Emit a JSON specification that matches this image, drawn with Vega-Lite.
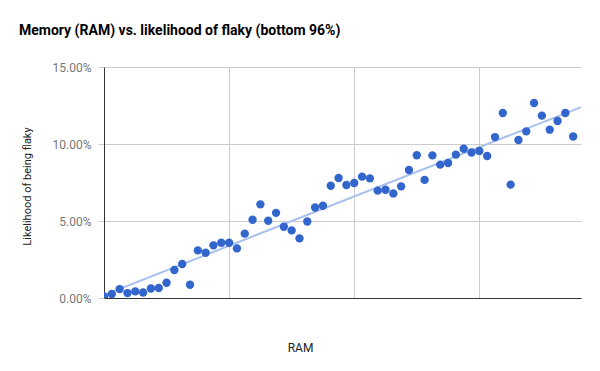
{
  "$schema": "https://vega.github.io/schema/vega-lite/v6.json",
  "width": 477,
  "height": 231,
  "autosize": {"type": "none"},
  "padding": {"left": 104, "top": 67, "right": 19, "bottom": 73},
  "background": "white",
  "config": {
    "font": "Roboto",
    "view": {"stroke": null}
  },
  "title": {
    "text": "Memory (RAM) vs. likelihood of flaky (bottom 96%)",
    "anchor": "start",
    "frame": "group",
    "dx": -85,
    "dy": 22,
    "offset": 34,
    "baseline": "alphabetic",
    "fontSize": 14,
    "fontWeight": "bold",
    "color": "#000000",
    "font": "Roboto"
  },
  "data": {
    "values": [
      {"ram": 0, "flaky": 0.0010}, {"ram": 1, "flaky": 0.0026}, {"ram": 2, "flaky": 0.0058},
      {"ram": 3, "flaky": 0.0032}, {"ram": 4, "flaky": 0.0043}, {"ram": 5, "flaky": 0.0036},
      {"ram": 6, "flaky": 0.0062}, {"ram": 7, "flaky": 0.0065}, {"ram": 8, "flaky": 0.0099},
      {"ram": 9, "flaky": 0.0182}, {"ram": 10, "flaky": 0.0221}, {"ram": 11, "flaky": 0.0086},
      {"ram": 12, "flaky": 0.0309}, {"ram": 13, "flaky": 0.0294}, {"ram": 14, "flaky": 0.0342},
      {"ram": 15, "flaky": 0.0359}, {"ram": 16, "flaky": 0.0359}, {"ram": 17, "flaky": 0.0322},
      {"ram": 18, "flaky": 0.0418}, {"ram": 19, "flaky": 0.0508}, {"ram": 20, "flaky": 0.0608},
      {"ram": 21, "flaky": 0.0502}, {"ram": 22, "flaky": 0.0553}, {"ram": 23, "flaky": 0.0463},
      {"ram": 24, "flaky": 0.0439}, {"ram": 25, "flaky": 0.0387}, {"ram": 26, "flaky": 0.0497},
      {"ram": 27, "flaky": 0.0588}, {"ram": 28, "flaky": 0.0599}, {"ram": 29, "flaky": 0.0729},
      {"ram": 30, "flaky": 0.0779}, {"ram": 31, "flaky": 0.0734}, {"ram": 32, "flaky": 0.0747},
      {"ram": 33, "flaky": 0.0788}, {"ram": 34, "flaky": 0.0777}, {"ram": 35, "flaky": 0.0697},
      {"ram": 36, "flaky": 0.0703}, {"ram": 37, "flaky": 0.0679}, {"ram": 38, "flaky": 0.0725},
      {"ram": 39, "flaky": 0.0831}, {"ram": 40, "flaky": 0.0927}, {"ram": 41, "flaky": 0.0767},
      {"ram": 42, "flaky": 0.0926}, {"ram": 43, "flaky": 0.0866}, {"ram": 44, "flaky": 0.0877},
      {"ram": 45, "flaky": 0.0931}, {"ram": 46, "flaky": 0.0969}, {"ram": 47, "flaky": 0.0945},
      {"ram": 48, "flaky": 0.0955}, {"ram": 49, "flaky": 0.0922}, {"ram": 50, "flaky": 0.1045},
      {"ram": 51, "flaky": 0.1201}, {"ram": 52, "flaky": 0.0736}, {"ram": 53, "flaky": 0.1026},
      {"ram": 54, "flaky": 0.1082}, {"ram": 55, "flaky": 0.1266}, {"ram": 56, "flaky": 0.1184},
      {"ram": 57, "flaky": 0.1093}, {"ram": 58, "flaky": 0.1149}, {"ram": 59, "flaky": 0.1201},
      {"ram": 60, "flaky": 0.1049}
    ]
  },
  "encoding": {
    "x": {
      "field": "ram",
      "type": "quantitative",
      "title": "RAM",
      "scale": {"domain": [0, 61], "nice": false, "zero": false},
      "axis": {
        "values": [16, 32, 48],
        "labels": false,
        "ticks": false,
        "grid": true,
        "gridColor": "#cccccc",
        "domainColor": "#333333",
        "titleFont": "Roboto",
        "titleFontSize": 12,
        "titleFontWeight": "normal",
        "titleColor": "#222222",
        "titleX": 196,
        "titleY": 49,
        "titleBaseline": "middle",
        "titleAnchor": "middle"
      }
    },
    "y": {
      "field": "flaky",
      "type": "quantitative",
      "title": "Likelihood of being flaky",
      "scale": {"domain": [0, 0.15], "nice": false},
      "axis": {
        "values": [0, 0.05, 0.1, 0.15],
        "format": ".2%",
        "grid": true,
        "gridColor": "#cccccc",
        "domainColor": "#333333",
        "tickColor": "#cccccc",
        "tickSize": 6,
        "labelPadding": 7,
        "labelFont": "Roboto",
        "labelFontSize": 12,
        "labelColor": "#777777",
        "titleFont": "Roboto",
        "titleFontSize": 11,
        "titleFontWeight": "normal",
        "titleColor": "#222222",
        "titleX": -77,
        "titleY": 119,
        "titleBaseline": "middle",
        "titleAngle": -90,
        "titleAnchor": "middle"
      }
    }
  },
  "layer": [
    {
      "transform": [{"regression": "flaky", "on": "ram", "extent": [0, 61]}],
      "mark": {"type": "line", "color": "#a9c1ee", "strokeWidth": 2, "clip": true}
    },
    {
      "mark": {"type": "circle", "color": "#3366cc", "opacity": 1, "size": 70, "clip": true}
    }
  ]
}
